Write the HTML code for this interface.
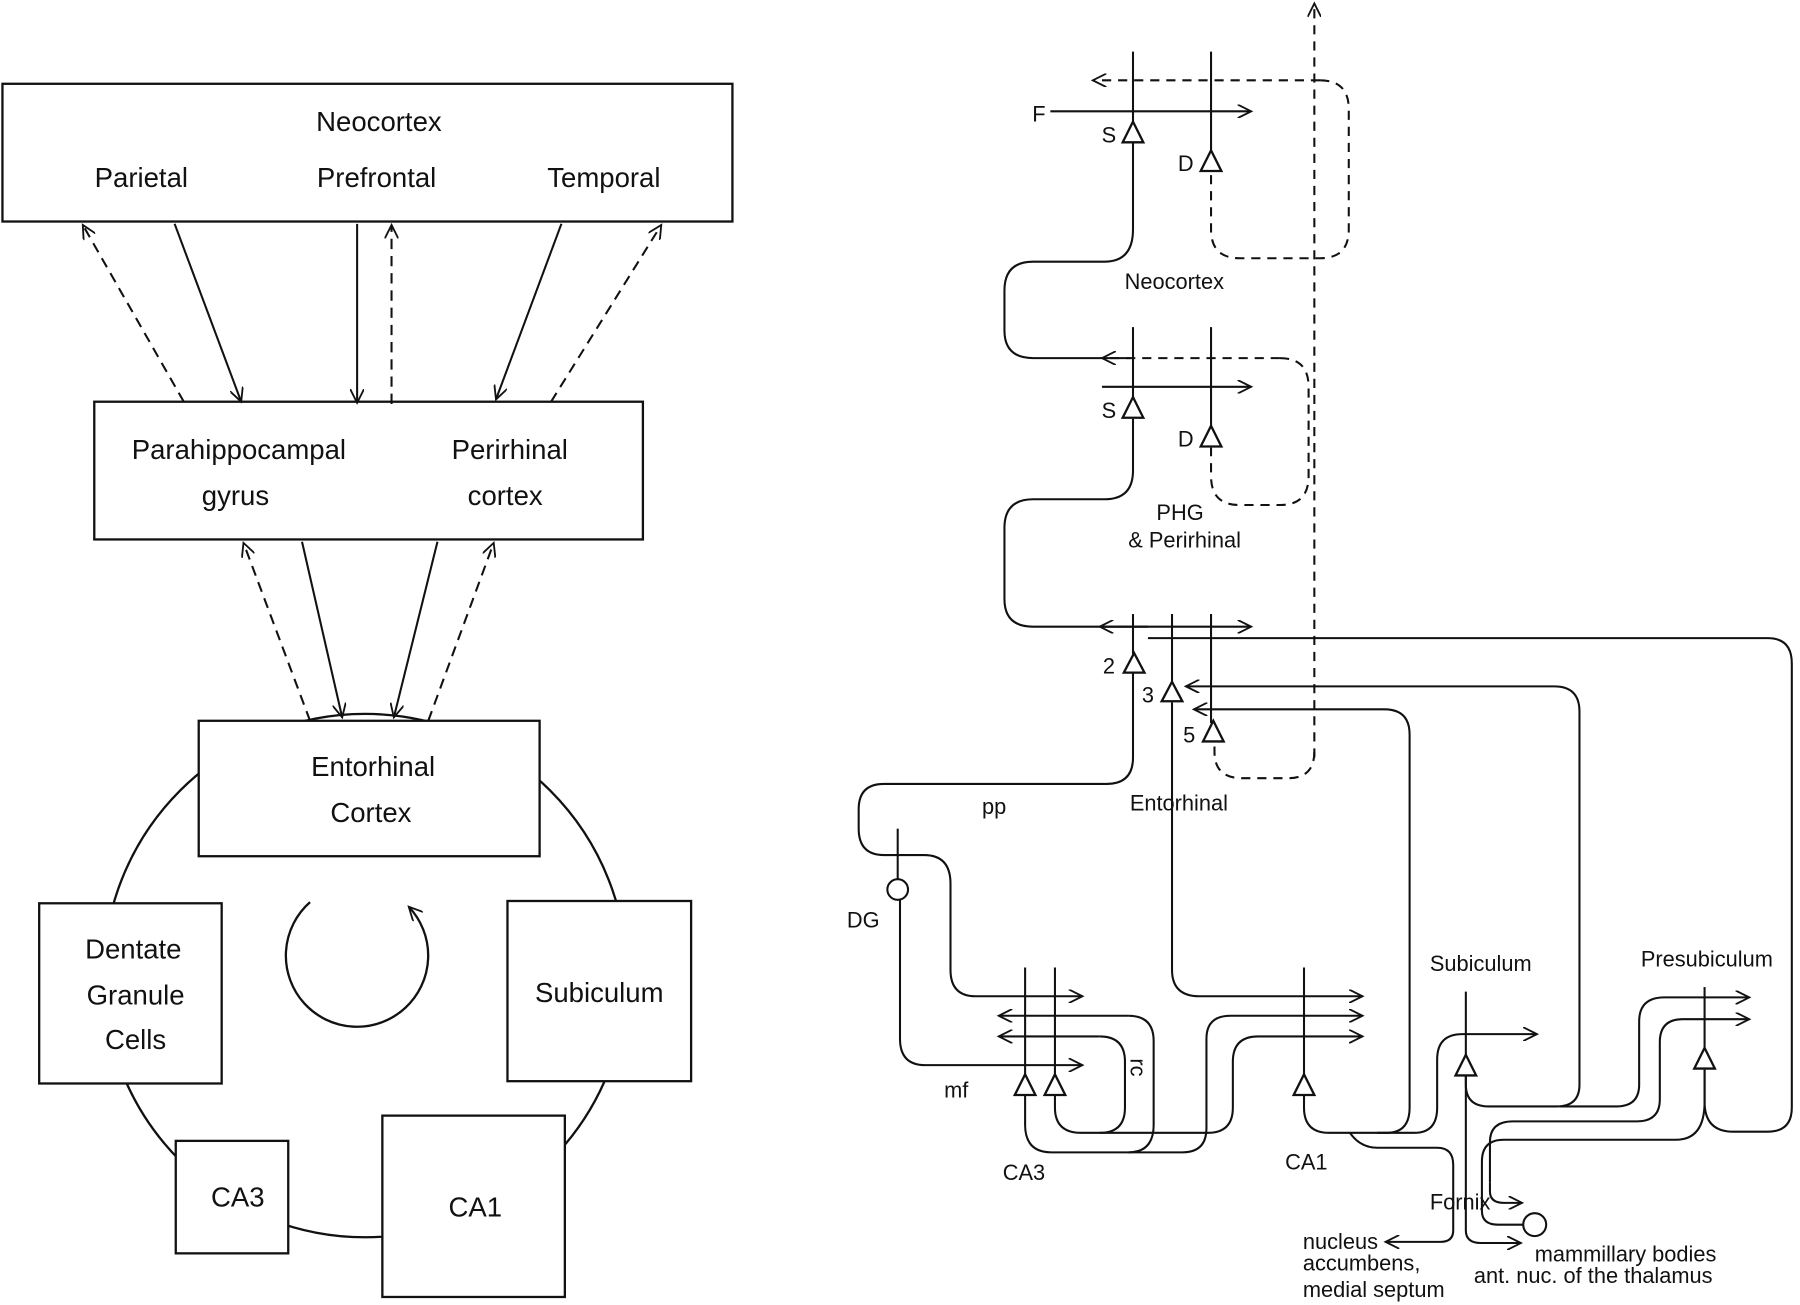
<!DOCTYPE html>
<html><head><meta charset="utf-8"><style>
html,body{margin:0;padding:0;background:#fff;}
svg{display:block;}
text{font-family:"Liberation Sans",sans-serif;fill:#111;}
</style></head><body>
<svg width="1800" height="1305" viewBox="0 0 1568 1137" xmlns="http://www.w3.org/2000/svg">
<defs>
<marker id="a" markerWidth="14" markerHeight="12" refX="12" refY="6" orient="auto" markerUnits="userSpaceOnUse">
<path d="M0,0 L12,6 L0,12" fill="none" stroke="#111" stroke-width="1.6"/>
</marker>
</defs>
<g fill="none" stroke="#111" stroke-width="2">
<!-- LEFT -->
<circle cx="318" cy="850" r="228"/>
<rect x="2" y="73" width="636" height="120" fill="#fff"/>
<rect x="82" y="350" width="478" height="120" fill="#fff"/>
<rect x="173" y="628" width="297" height="118" fill="#fff"/>
<rect x="34" y="787" width="159" height="157" fill="#fff"/>
<rect x="442" y="785" width="160" height="157" fill="#fff"/>
<rect x="153" y="994" width="98" height="98" fill="#fff"/>
<rect x="333" y="972" width="159" height="158" fill="#fff"/>
<path d="M270,786 A62,62 0 1 0 356,790" marker-end="url(#a)"/>
<g stroke-width="1.8">
<line x1="152" y1="195" x2="210" y2="350" marker-end="url(#a)"/>
<line x1="311" y1="195" x2="311" y2="351" marker-end="url(#a)"/>
<line x1="489" y1="195" x2="432" y2="348" marker-end="url(#a)"/>
<line x1="263" y1="472" x2="298" y2="625" marker-end="url(#a)"/>
<line x1="381" y1="472" x2="343" y2="625" marker-end="url(#a)"/>
</g>
<g stroke-width="1.8" stroke-dasharray="9,6">
<line x1="160" y1="350" x2="72" y2="196" marker-end="url(#a)"/>
<line x1="341" y1="352" x2="341" y2="196" marker-end="url(#a)"/>
<line x1="480" y1="350" x2="576" y2="196" marker-end="url(#a)"/>
<line x1="270" y1="628" x2="212" y2="473" marker-end="url(#a)"/>
<line x1="373" y1="628" x2="430" y2="473" marker-end="url(#a)"/>
</g>
</g>
<g font-size="24" text-anchor="middle">
<text x="330" y="114">Neocortex</text>
<text x="123" y="163">Parietal</text>
<text x="328" y="163">Prefrontal</text>
<text x="526" y="163">Temporal</text>
<text x="208" y="400">Parahippocampal</text>
<text x="205" y="440">gyrus</text>
<text x="444" y="400">Perirhinal</text>
<text x="440" y="440">cortex</text>
<text x="325" y="676">Entorhinal</text>
<text x="323" y="716">Cortex</text>
<text x="116" y="835">Dentate</text>
<text x="118" y="875">Granule</text>
<text x="118" y="914">Cells</text>
<text x="522" y="873">Subiculum</text>
<text x="207" y="1051">CA3</text>
<text x="414" y="1060">CA1</text>
</g>

<!-- RIGHT -->
<g fill="none" stroke="#111" stroke-width="1.8">
<!-- neocortex -->
<line x1="987" y1="45" x2="987" y2="108"/>
<line x1="1055" y1="45" x2="1055" y2="132"/>
<line x1="915" y1="97" x2="1090" y2="97" marker-end="url(#a)"/>
<path d="M987,125 V200 Q987,228 962,228 H900 Q875,228 875,253 V288 Q875,312 900,312 H985"/>
<!-- PHG -->
<line x1="987" y1="285" x2="987" y2="348"/>
<line x1="1055" y1="285" x2="1055" y2="372"/>
<line x1="960" y1="337" x2="1090" y2="337" marker-end="url(#a)"/>
<path d="M987,365 V410 Q987,435 962,435 H900 Q875,435 875,460 V522 Q875,546 900,546 H1090" marker-end="url(#a)"/>
<line x1="1000" y1="546" x2="958" y2="546" marker-end="url(#a)"/>
<!-- EC -->
<line x1="987" y1="535" x2="987" y2="570"/>
<line x1="1021" y1="535" x2="1021" y2="595"/>
<line x1="1055" y1="535" x2="1055" y2="630"/>
<path d="M987,586 V660 Q987,683 964,683 H770 Q748,683 748,705 V722 Q748,745 770,745 H805 Q828,745 828,770 V845 Q828,868 850,868 H943" marker-end="url(#a)"/>
<path d="M1021,612 V845 Q1021,868 1045,868 H1187" marker-end="url(#a)"/>
<!-- DG -->
<line x1="782" y1="722" x2="782" y2="766"/>
<circle cx="782" cy="775" r="9"/>
<path d="M784,784 V905 Q784,928 806,928 H943" marker-end="url(#a)"/>
<!-- CA3 -->
<line x1="893" y1="843" x2="893" y2="937"/>
<line x1="919" y1="843" x2="919" y2="937"/>
<path d="M983,885 H870" marker-end="url(#a)"/>
<path d="M983,885 Q1005,885 1005,907 V980 Q1005,1004 983,1004"/>
<path d="M958,903 H870" marker-end="url(#a)"/>
<path d="M958,903 Q980,903 980,925 V965 Q980,987 958,987"/>
<path d="M893,954 V980 Q893,1004 916,1004 H1030 Q1051,1004 1051,983 V905 Q1051,885 1072,885 H1187" marker-end="url(#a)"/>
<path d="M919,954 V965 Q919,987 942,987 H1052 Q1074,987 1074,965 V925 Q1074,903 1096,903 H1187" marker-end="url(#a)"/>
<!-- CA1 -->
<line x1="1136" y1="843" x2="1136" y2="937"/>
<path d="M1136,954 V965 Q1136,987 1158,987 H1208 Q1228,987 1228,965 V640 Q1228,618 1206,618 H1040" marker-end="url(#a)"/>
<path d="M1200,987 H1232 Q1252,987 1252,965 V923 Q1252,901 1274,901 H1339" marker-end="url(#a)"/>
<path d="M1176,987 Q1185,1000 1200,1000 H1252 Q1266,1000 1266,1015 V1072 Q1266,1082 1255,1082 H1207" marker-end="url(#a)"/>
<!-- Subiculum -->
<line x1="1277" y1="864" x2="1277" y2="920"/>
<path d="M1277,937 V1072 Q1277,1083 1290,1083 H1325" marker-end="url(#a)"/>
<path d="M1277,937 V945 Q1277,964 1297,964 H1356 Q1376,964 1376,945 V620 Q1376,598 1354,598 H1033" marker-end="url(#a)"/>
<!-- Presubiculum -->
<line x1="1485" y1="860" x2="1485" y2="914"/>
<path d="M1359,964 H1408 Q1428,964 1428,945 V890 Q1428,869 1450,869 H1524" marker-end="url(#a)"/>
<path d="M1298,1030 V995 Q1298,977 1318,977 H1426 Q1446,977 1446,958 V908 Q1446,888 1466,888 H1524" marker-end="url(#a)"/>
<path d="M1298,1030 V1038 Q1298,1048 1310,1048 H1326" marker-end="url(#a)"/>
<path d="M1485,932 V960 Q1485,993 1460,993 H1310 Q1291,993 1291,1012 V1055 Q1291,1067 1305,1067 H1327"/>
<circle cx="1337" cy="1067" r="10"/>
<path d="M1485,932 V960 Q1485,986 1510,986 H1540 Q1561,986 1561,965 V578 Q1561,556 1540,556 H1000"/>
</g>
<!-- triangles -->
<g fill="#fff" stroke="#111" stroke-width="2">
<path d="M987,106 L978,124 L996,124 Z"/>
<path d="M1055,131 L1046,149 L1064,149 Z"/>
<path d="M987,346 L978,364 L996,364 Z"/>
<path d="M1055,371 L1046,389 L1064,389 Z"/>
<path d="M988,569 L979,586 L997,586 Z"/>
<path d="M1021,594 L1012,611 L1030,611 Z"/>
<path d="M1057,628 L1048,646 L1066,646 Z"/>
<path d="M893,936 L884,954 L902,954 Z"/>
<path d="M919,936 L910,954 L928,954 Z"/>
<path d="M1136,936 L1127,954 L1145,954 Z"/>
<path d="M1277,919 L1268,937 L1286,937 Z"/>
<path d="M1485,913 L1476,931 L1494,931 Z"/>
</g>
<!-- dashed -->
<g fill="none" stroke="#111" stroke-width="1.8" stroke-dasharray="8,6">
<path d="M1150,70 H952" marker-end="url(#a)"/>
<path d="M1150,70 Q1175,70 1175,95 V200 Q1175,225 1150,225 H1080 Q1055,225 1055,200 V150"/>
<path d="M1115,312 H960" marker-end="url(#a)"/>
<path d="M1115,312 Q1140,312 1140,337 V415 Q1140,440 1115,440 H1080 Q1055,440 1055,415 V390"/>
<path d="M1145,660 V3" marker-end="url(#a)"/>
<path d="M1145,655 Q1145,678 1122,678 H1082 Q1058,678 1058,655 V648"/>
</g>
<g font-size="19" text-anchor="middle">
<text x="905" y="106">F</text>
<text x="966" y="124">S</text>
<text x="1033" y="149">D</text>
<text x="1023" y="252">Neocortex</text>
<text x="966" y="364">S</text>
<text x="1033" y="389">D</text>
<text x="1028" y="453">PHG</text>
<text x="1032" y="477">&amp; Perirhinal</text>
<text x="966" y="587">2</text>
<text x="1000" y="612">3</text>
<text x="1036" y="647">5</text>
<text x="866" y="709">pp</text>
<text x="1027" y="706">Entorhinal</text>
<text x="752" y="808">DG</text>
<text x="833" y="956">mf</text>
<text x="892" y="1028">CA3</text>
<text x="1138" y="1019">CA1</text>
<text x="1290" y="846">Subiculum</text>
<text x="1487" y="842">Presubiculum</text>
<text x="1272" y="1054">Fornix</text>
<text x="0" y="0" transform="translate(985,930) rotate(90)">rc</text>
</g>
<g font-size="19">
<text x="1135" y="1088">nucleus</text>
<text x="1135" y="1107">accumbens,</text>
<text x="1135" y="1130">medial septum</text>
<text x="1337" y="1099">mammillary bodies</text>
<text x="1284" y="1118">ant. nuc. of the thalamus</text>
</g>
</svg>
</body></html>
